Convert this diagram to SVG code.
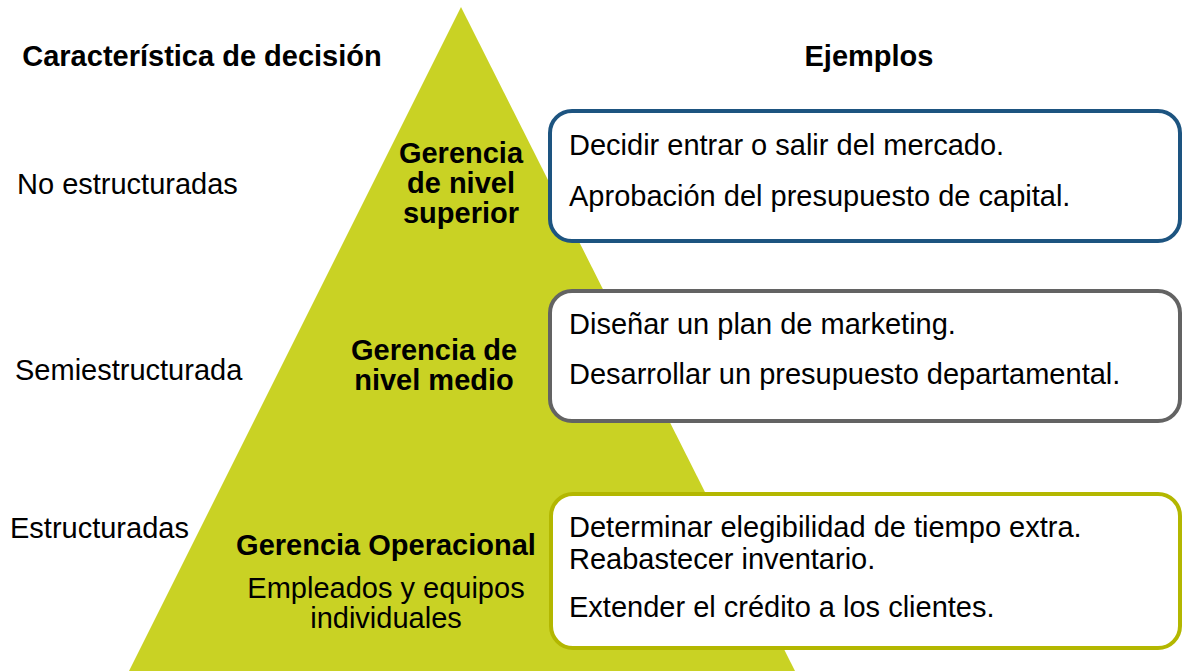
<svg xmlns="http://www.w3.org/2000/svg" width="1182" height="671" viewBox="0 0 1182 671">
<style>
text{font-family:"Liberation Sans",Arial,sans-serif;fill:#000;font-size:29px}
.bd{font-weight:bold}
.c{text-anchor:middle}
.box{fill:#fff;stroke-width:4}
</style>
<rect width="1182" height="671" fill="#fff"/>
<g id="pyramid"><polygon points="461,7 795,671 129,671" fill="#C9D224"/></g>
<g id="headers">
<text class="bd c" x="202" y="66">Característica de decisión</text>
<text class="bd c" x="869" y="66">Ejemplos</text>
</g>
<g id="labels">
<text x="17" y="194">No estructuradas</text>
<text x="15" y="380">Semiestructurada</text>
<text x="10" y="538">Estructuradas</text>
</g>
<g id="level-top">
<text class="bd c" x="461" y="163">Gerencia</text>
<text class="bd c" x="461" y="193">de nivel</text>
<text class="bd c" x="461" y="223">superior</text>
</g>
<g id="level-mid">
<text class="bd c" x="434" y="360">Gerencia de</text>
<text class="bd c" x="434" y="390">nivel medio</text>
</g>
<g id="level-op">
<text class="bd c" x="386" y="555">Gerencia Operacional</text>
<text class="c" x="386" y="598">Empleados y equipos</text>
<text class="c" x="386" y="628">individuales</text>
</g>
<g id="box-top">
<rect class="box" x="550" y="111" width="630" height="130" rx="22" stroke="#1D5480"/>
<text x="569" y="155">Decidir entrar o salir del mercado.</text>
<text x="569" y="206">Aprobación del presupuesto de capital.</text>
</g>
<g id="box-mid">
<rect class="box" x="550" y="291" width="630" height="130" rx="22" stroke="#636363"/>
<text x="569" y="334">Diseñar un plan de marketing.</text>
<text x="569" y="384">Desarrollar un presupuesto departamental.</text>
</g>
<g id="box-op">
<rect class="box" x="551" y="494" width="629" height="154" rx="22" stroke="#B3B700"/>
<text x="569" y="537">Determinar elegibilidad de tiempo extra.</text>
<text x="569" y="569">Reabastecer inventario.</text>
<text x="569" y="617">Extender el crédito a los clientes.</text>
</g>
<g id="connectors"></g>
</svg>
